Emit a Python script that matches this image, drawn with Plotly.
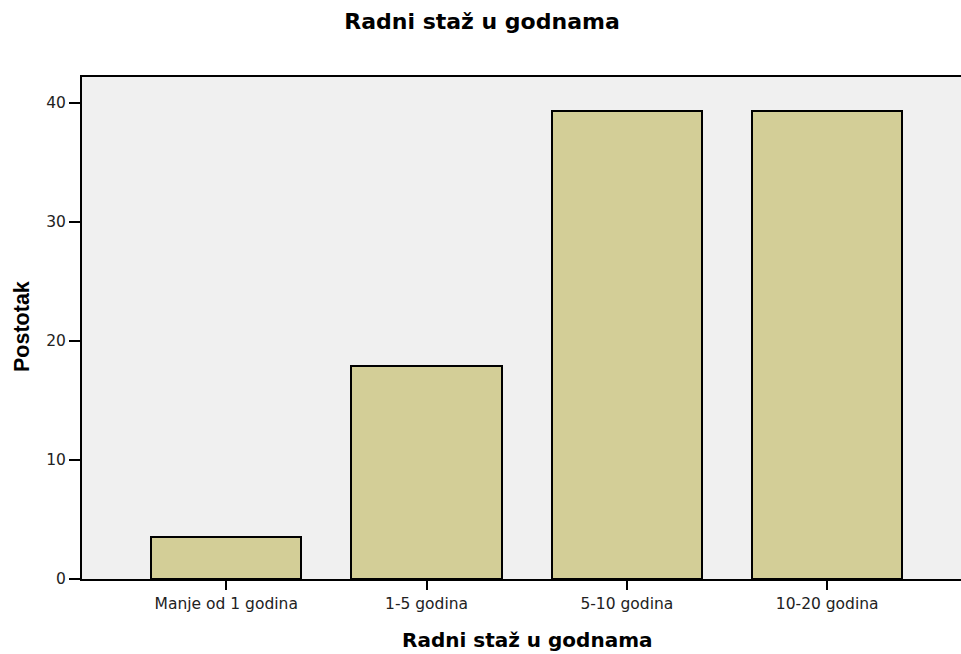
import plotly.graph_objects as go

categories = ["Manje od 1 godina", "1-5 godina", "5-10 godina", "10-20 godina"]
percentages = [3.57, 17.86, 39.29, 39.29]
y_ticks = [0, 10, 20, 30, 40]

title_text = "Radni staž u godnama"
x_title = "Radni staž u godnama"
y_title = "Postotak"

W, H = 961, 654
PL, PT, PB = 82, 77, 579   # plot area edges in page pixels
ML, MR, MT, MB = PL, 0, PT, H - PB
PW, PH = W - ML - MR, H - MT - MB

fig = go.Figure()
fig.add_trace(go.Bar(
    x=list(range(len(categories))),
    y=percentages,
    width=0.75,
    marker=dict(color="#D3CE97", line=dict(color="black", width=2)),
    hoverinfo="skip",
))

tickfont = dict(family="DejaVu Sans, Arial", size=15.5, color="#222")

fig.update_layout(
    width=W, height=H,
    margin=dict(l=ML, r=MR, t=MT, b=MB),
    paper_bgcolor="white",
    plot_bgcolor="#F0F0F0",
    showlegend=False,
    bargap=0,
    title=dict(
        text="<b>" + title_text + "</b>",
        x=482 / W, xanchor="center",
        y=1 - 21 / H, yanchor="middle",
        xref="container", yref="container",
        font=dict(family="DejaVu Sans, Arial", size=22, color="black"),
    ),
    xaxis=dict(
        tickmode="array",
        tickvals=list(range(len(categories))),
        ticktext=categories,
        range=[-0.72, 3.668],
        showline=True, linecolor="black", linewidth=2, mirror=True,
        ticks="outside", ticklen=9, tickwidth=2, tickcolor="black",
        tickfont=tickfont,
        showgrid=False, zeroline=False,
        fixedrange=True,
    ),
    yaxis=dict(
        tickmode="array",
        tickvals=y_ticks,
        range=[0, 42.18],
        showline=True, linecolor="black", linewidth=2,
        ticks="outside", ticklen=11, tickwidth=2, tickcolor="black",
        tickfont=tickfont,
        showgrid=False, zeroline=False,
        fixedrange=True,
    ),
    annotations=[
        dict(
            text="<b>" + x_title + "</b>",
            xref="paper", yref="paper",
            x=(527 - PL) / PW, y=-(640 - PB) / PH,
            xanchor="center", yanchor="middle", showarrow=False,
            font=dict(family="DejaVu Sans, Arial", size=20, color="black"),
        ),
        dict(
            text="<b>" + y_title + "</b>",
            xref="paper", yref="paper",
            x=-(PL - 22) / PW, y=(PB - 327) / PH,
            xanchor="center", yanchor="middle", showarrow=False, textangle=-90,
            font=dict(family="Liberation Sans, Arial", size=21.5, color="black"),
        ),
    ],
)

fig.write_html(
    "out.html",
    config={"displayModeBar": False},
    post_script="document.body.style.margin='0';document.body.style.overflow='hidden';",
)
